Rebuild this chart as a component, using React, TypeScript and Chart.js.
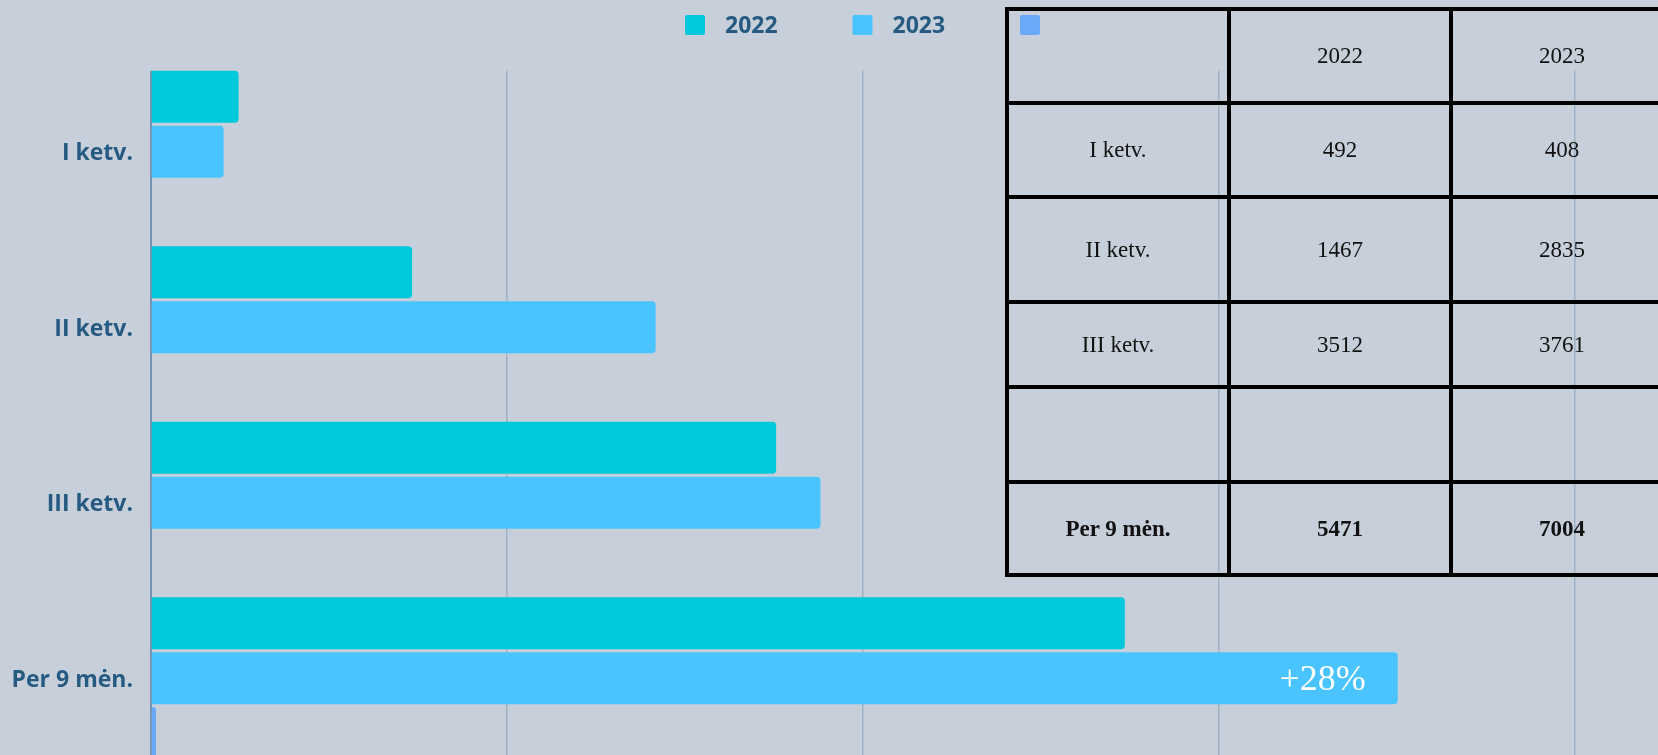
import React, { useEffect, useRef } from "react";
import { Chart, registerables } from "chart.js";

Chart.register(...registerables);

// ---------- data ----------
const categories = ["I ketv.", "II ketv.", "III ketv.", "Per 9 mėn."];
const series2022 = [492, 1467, 3512, 5471];
const series2023 = [408, 2835, 3761, 7004];
const seriesGrowth = [null, null, null, 28];
const seriesLabels = ["2022", "2023", ""];
const xMin = 0;
const xMax = 8000;
const xStep = 2000;
const tableHeader = ["", "2022", "2023"];

// ---------- styles ----------
const BG = "#c7d0da";
const TEXT_BLUE = "#265a80";
const COLORS = ["#00c9db", "#4ac4fe", "#6aa8f8"];

const growthLabel = `+${Math.round((series2023[3] / series2022[3] - 1) * 100)}%`;

const coverTopPlugin = {
  id: "coverTop",
  beforeDatasetsDraw(chart: any) {
    const { ctx, chartArea } = chart;
    ctx.save();
    ctx.fillStyle = BG;
    ctx.fillRect(chartArea.left - 4, chartArea.top - 2, chartArea.width + 8, 8.8);
    ctx.restore();
  },
};

const customLegendPlugin = {
  id: "customLegend",
  afterDraw(chart: any, _args: any, opts: any) {
    const { ctx } = chart;
    ctx.save();
    chart.data.datasets.forEach((ds: any, i: number) => {
      const x = opts.startX + i * opts.step;
      const y = opts.y;
      ctx.fillStyle = ds.backgroundColor;
      ctx.beginPath();
      (ctx as any).roundRect(x, y, 20, 20, 2);
      ctx.fill();
      if (ds.label) {
        ctx.fillStyle = TEXT_BLUE;
        ctx.font = 'bold 23px "Open Sans"';
        ctx.textBaseline = "middle";
        ctx.textAlign = "left";
        ctx.fillText(ds.label, x + 40, y + 11);
      }
    });
    ctx.restore();
  },
};

const growthPlugin = {
  id: "growthLabel",
  afterDatasetsDraw(chart: any) {
    const meta = chart.getDatasetMeta(1);
    const bar = meta.data[3];
    if (!bar) return;
    const { ctx } = chart;
    ctx.save();
    ctx.fillStyle = "#ffffff";
    ctx.font = '36px "Liberation Serif"';
    ctx.textAlign = "right";
    ctx.textBaseline = "middle";
    ctx.fillText(growthLabel, bar.x - 32, bar.y + 2);
    ctx.restore();
  },
};

function ChartCanvas() {
  const ref = useRef<HTMLCanvasElement | null>(null);
  useEffect(() => {
    if (!ref.current) return;
    const ds = (label: string, data: any[], color: string) => ({
      label,
      data,
      backgroundColor: color,
      borderWidth: 0,
      borderRadius: 4,
      categoryPercentage: 0.94,
      barPercentage: 0.942,
    });
    const chart = new Chart(ref.current, {
      type: "bar",
      data: {
        labels: categories,
        datasets: [
          ds(seriesLabels[0], series2022, COLORS[0]),
          ds(seriesLabels[1], series2023, COLORS[1]),
          ds(seriesLabels[2], seriesGrowth, COLORS[2]),
        ],
      },
      options: {
        animation: false,
        responsive: false,
        indexAxis: "y",
        layout: { padding: { top: 56, bottom: 42, right: 75, left: 0 } },
        plugins: {
          legend: { display: false },
          tooltip: { enabled: false },
          customLegend: { startX: 677, step: 167.5, y: 7 },
        } as any,
        scales: {
          x: {
            min: xMin,
            max: xMax,
            ticks: { display: false, stepSize: xStep },
            grid: { color: "#9db2c4", lineWidth: 1.5, drawTicks: false },
            border: { display: false },
          },
          y: {
            grid: { display: true, drawOnChartArea: false, drawTicks: false },
            border: { display: true, color: "#7893ad", width: 2 },
            ticks: {
              padding: 18,
              labelOffset: 2,
              color: TEXT_BLUE,
              font: { family: "Open Sans", size: 23, weight: "bold" },
            },
            afterFit: (scale: any) => {
              scale.width = 143;
            },
          },
        },
      } as any,
      plugins: [coverTopPlugin, customLegendPlugin, growthPlugin],
    });
    return () => chart.destroy();
  }, []);
  return <canvas ref={ref} width={1642} height={800} style={{ display: "block" }} />;
}

const rowHeights = [94, 94, 105, 85, 95, 93];

export default function App() {
  const rows: (string | number)[][] = [tableHeader];
  for (let i = 0; i < 3; i++) rows.push([categories[i], series2022[i], series2023[i]]);
  rows.push(["", "", ""]);
  rows.push([categories[3], series2022[3], series2023[3]]);

  return (
    <div
      style={{
        position: "fixed",
        left: 0,
        top: 0,
        width: "100vw",
        height: "100vh",
        overflow: "hidden",
        background: BG,
      }}
    >
      <div style={{ position: "absolute", left: 8, top: 8 }}>
        <ChartCanvas />
      </div>
      <table
        style={{
          position: "absolute",
          left: 1005,
          top: 7,
          borderCollapse: "collapse",
          tableLayout: "fixed",
          width: 666,
          fontFamily: '"Liberation Serif", serif',
          fontSize: 23,
          color: "#111",
        }}
      >
        <colgroup>
          <col style={{ width: 222 }} />
          <col style={{ width: 222 }} />
          <col style={{ width: 222 }} />
        </colgroup>
        <tbody>
          {rows.map((r, ri) => (
            <tr key={ri} style={{ height: rowHeights[ri] }}>
              {r.map((c, ci) => (
                <td
                  key={ci}
                  style={{
                    border: "4px solid #000",
                    textAlign: "center",
                    verticalAlign: "middle",
                    padding: 0,
                    fontWeight: ri === rows.length - 1 ? "bold" : "normal",
                  }}
                >
                  {c}
                </td>
              ))}
            </tr>
          ))}
        </tbody>
      </table>
    </div>
  );
}
